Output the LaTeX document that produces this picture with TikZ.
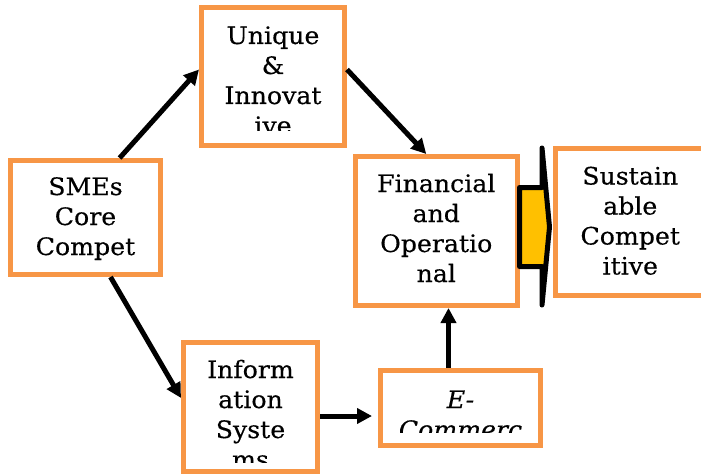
\documentclass[tikz,border=0pt]{standalone}
\usepackage{fontspec}
\setmainfont{DejaVu Serif}[FakeStretch=1.05,FakeBold=0.4]
\usetikzlibrary{arrows.meta,calc}
\definecolor{boxorange}{HTML}{F79646}
\definecolor{blockyellow}{HTML}{FFC000}
\newcommand{\boxfont}{\fontsize{24}{30}\selectfont}
\tikzset{
  box/.style={draw=boxorange, line width=5pt},
  % text, first baseline below the top edge, clip above the bottom edge
  boxtext/.style n args={3}{path picture={
      \clip ([yshift=#3]path picture bounding box.south west) rectangle (path picture bounding box.north east);
      \node[anchor=base, inner sep=0pt, font=\boxfont] (label) at ([yshift=-#2]path picture bounding box.north)
        {\begin{tabular}[t]{@{}c@{}}#1\end{tabular}};}},
  link/.style={line width=5pt, -{Triangle[length=15pt,width=15pt]}}
}

\begin{document}
\begin{tikzpicture}[x=1pt,y=1pt]
  \useasboundingbox (0,0) rectangle (701,475);

  \node[box, minimum width=150pt, minimum height=114pt, boxtext={SMEs\\Core\\Compet}{34.5pt}{12pt}] (smes) at (85.5,257.5) {};
  \node[box, minimum width=143pt, minimum height=138pt, boxtext={Unique\\\&\\Innovat\\ive}{36.5pt}{15pt}] (uniq) at (273,398.5) {};
  \node[box, minimum width=162.5pt, minimum height=149pt, boxtext={Financial\\and\\Operatio\\nal}{35.5pt}{12pt}] (fin) at (436.25,244) {};
  \node[box, minimum width=149.5pt, minimum height=147.5pt, boxtext={Sustain\\able\\Compet\\itive}{36.5pt}{12pt}] (sus) at (630.25,253.25) {};
  \node[box, minimum width=134pt, minimum height=129pt, boxtext={Inform\\ation\\Syste\\ms}{35.5pt}{9.5pt}] (info) at (250.5,68) {};
  \node[box, minimum width=160pt, minimum height=75pt, boxtext={\textit{E-}\\\textit{Commerc}}{37.5pt}{13.5pt}] (ecom) at (460.5,67) {};

  \draw[link] ($(smes.north west)!0.72!(smes.north east)$) -- ([yshift=7pt]uniq.west);
  \draw[link] ([yshift=7pt]uniq.east) -- ([xshift=-10pt]fin.north);
  \draw[link] ([xshift=25pt]smes.south) -- ([yshift=9pt]info.west);
  \draw[link, shorten >=6pt] ([yshift=-9pt]info.east) -- ([yshift=-9pt]info.east -| ecom.west);
  \draw[link] ([xshift=-12pt]ecom.north) -- ([xshift=-12pt]ecom.north |- fin.south);

  % block arrow
  \draw[line width=5pt, line join=round, fill=blockyellow]
    (519.5,287.5) -- (542,287.5) -- (542,327) -- (549.5,248) -- (542,170)
    -- (542,208.5) -- (519.5,208.5) -- cycle;
\end{tikzpicture}
\end{document}
